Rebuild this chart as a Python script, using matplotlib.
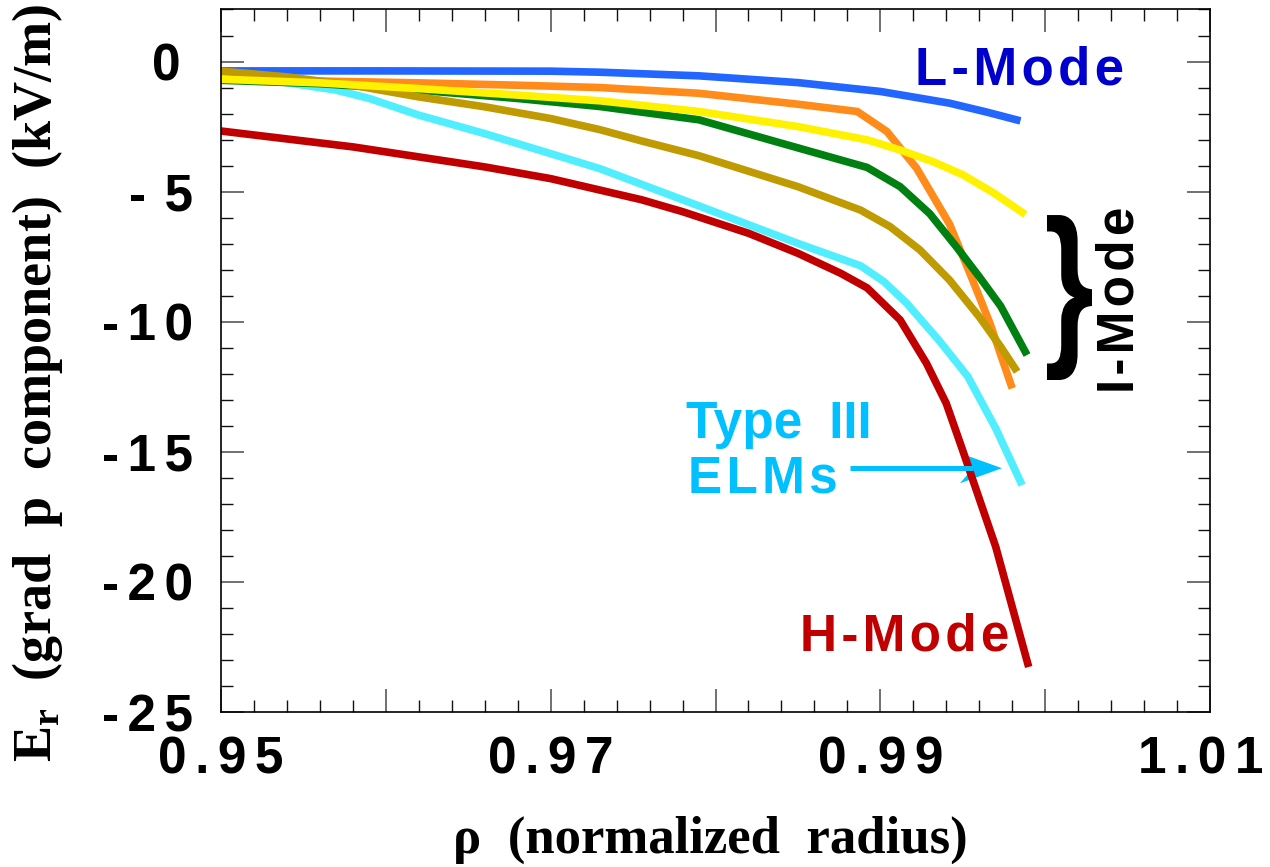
import matplotlib
matplotlib.use("Agg")
import matplotlib.pyplot as plt
from matplotlib.ticker import MultipleLocator, FuncFormatter
from matplotlib.textpath import TextPath
from matplotlib.font_manager import FontProperties
from matplotlib.patches import PathPatch, Polygon
from matplotlib.transforms import Affine2D

SANS = ["Liberation Sans", "DejaVu Sans"]
SERIF = ["Liberation Serif", "DejaVu Serif"]

# grad-p contribution to Er versus normalized radius, one profile per regime
l_mode_rho = [0.950, 0.960, 0.970, 0.973, 0.979, 0.985, 0.990, 0.9942, 0.9965, 0.9985]
l_mode_er = [-0.36, -0.36, -0.37, -0.41, -0.55, -0.81, -1.15, -1.60, -1.95, -2.28]

orange_rho = [0.950, 0.956, 0.962, 0.968, 0.973, 0.979, 0.985, 0.9886, 0.9904, 0.9922,
              0.9942, 0.9956, 0.99665, 0.9980]
orange_er = [-0.65, -0.75, -0.82, -0.91, -1.00, -1.22, -1.64, -1.92, -2.69, -4.10,
             -6.25, -8.40, -10.06, -12.56]

yellow_rho = [0.950, 0.956, 0.962, 0.968, 0.973, 0.979, 0.985, 0.9892, 0.9912, 0.9932,
              0.9950, 0.9969, 0.9988]
yellow_er = [-0.68, -0.82, -1.04, -1.29, -1.51, -1.92, -2.50, -3.01, -3.40, -3.85,
             -4.35, -5.06, -5.88]

green_rho = [0.950, 0.956, 0.962, 0.968, 0.973, 0.979, 0.984, 0.9892, 0.9912, 0.9930,
             0.9946, 0.9960, 0.9973, 0.9989]
green_er = [-0.72, -0.85, -1.10, -1.42, -1.73, -2.24, -3.14, -4.07, -4.81, -5.85,
            -7.11, -8.27, -9.40, -11.28]

gold_rho = [0.950, 0.954, 0.958, 0.962, 0.966, 0.970, 0.973, 0.9755, 0.979, 0.985,
            0.9888, 0.9906, 0.9924, 0.9942, 0.9960, 0.9973, 0.9983]
gold_er = [-0.37, -0.59, -0.91, -1.36, -1.74, -2.19, -2.62, -3.05, -3.62, -4.81,
           -5.71, -6.35, -7.24, -8.40, -9.81, -10.96, -11.92]

elm3_rho = [0.950, 0.953, 0.957, 0.959, 0.962, 0.966, 0.970, 0.973, 0.979, 0.985,
            0.9888, 0.9902, 0.9916, 0.9936, 0.9953, 0.9970, 0.9986]
elm3_er = [-0.48, -0.72, -1.10, -1.42, -2.06, -2.77, -3.54, -4.12, -5.55, -6.99,
           -7.85, -8.45, -9.29, -10.75, -12.10, -14.10, -16.28]

h_mode_rho = [0.950, 0.958, 0.966, 0.970, 0.9755, 0.978, 0.982, 0.985, 0.9876, 0.9892,
              0.9912, 0.9928, 0.9940, 0.9950, 0.9970, 0.9990]
h_mode_er = [-2.67, -3.28, -4.05, -4.50, -5.31, -5.77, -6.60, -7.37, -8.14, -8.70,
             -9.93, -11.60, -13.14, -14.95, -18.65, -23.27]

x_tick_labels = {0.95: "0.95", 0.97: "0.97", 0.99: "0.99", 1.01: "1.01"}
y_tick_labels = {0: "0", -5: "- 5", -10: "-10", -15: "-15", -20: "-20", -25: "-25"}

HAIR = "\u200a"


def spaced(s, n=1):
    return (HAIR * n).join(s)


fig = plt.figure(figsize=(12.7, 8.67), dpi=100)
ax = fig.add_axes([221 / 1270, 1 - 712 / 867, (1210 - 221) / 1270, (712 - 9.5) / 867])

lw = 5.5
curves = [
    (l_mode_rho, l_mode_er, "#2266ff"),
    (orange_rho, orange_er, "#ff8c1a"),
    (elm3_rho, elm3_er, "#50eeff"),
    (green_rho, green_er, "#008010"),
    (gold_rho, gold_er, "#bf9a00"),
    (yellow_rho, yellow_er, "#fff200"),
    (h_mode_rho, h_mode_er, "#c00000"),
]
for rho, er, col in curves:
    ax.plot(rho, er, color=col, lw=lw, solid_capstyle="butt", solid_joinstyle="miter")

ax.set_xlim(0.95, 1.01)
ax.set_ylim(-25, 2)

ax.xaxis.set_major_locator(MultipleLocator(0.01))
ax.xaxis.set_minor_locator(MultipleLocator(0.002))
ax.yaxis.set_major_locator(MultipleLocator(5))
ax.yaxis.set_minor_locator(MultipleLocator(1))

LAST_X = 1.01


def fmt_x(v, pos):
    # the label at the right edge is drawn separately, pulled inward
    for k, s in x_tick_labels.items():
        if abs(v - k) < 1e-6 and abs(k - LAST_X) > 1e-6:
            return spaced(s, 2)
    return ""


def fmt_y(v, pos):
    for k, s in y_tick_labels.items():
        if abs(v - k) < 1e-6:
            if k == 0:
                return s + HAIR * 3
            if k == -5:
                return "-" + HAIR + " 5"
            return spaced(s, 2)
    return ""


ax.xaxis.set_major_formatter(FuncFormatter(fmt_x))
ax.yaxis.set_major_formatter(FuncFormatter(fmt_y))

tick_font = dict(family=SANS, fontweight="bold", fontsize=37)
ax.tick_params(which="both", direction="in", top=True, right=True)
ax.tick_params(which="major", length=16.5, width=1.4, color="#707070")
ax.tick_params(which="minor", length=8.3, width=1.0, color="#111111")
ax.tick_params(axis="y", which="major", pad=20)
ax.tick_params(axis="x", which="major", pad=17)
for lab in ax.get_xticklabels() + ax.get_yticklabels():
    lab.set_fontfamily(SANS)
    lab.set_fontweight("bold")
    lab.set_fontsize(37)
ax.annotate(spaced(x_tick_labels[LAST_X], 2), xy=(LAST_X, 0),
            xycoords=("data", "axes fraction"), xytext=(-7, -17),
            textcoords="offset points", ha="center", va="top", **tick_font)
for sp in ax.spines.values():
    sp.set_linewidth(1.2)
    sp.set_color("black")

# axis titles
fig.text(38 / 1270, 1 - 383 / 867, "E$_\\mathregular{r}$  (grad  p  component)  (kV/m)",
         rotation=90, ha="center", va="center", fontsize=39, fontweight="bold",
         family=SERIF)
fig.text(710 / 1270, 1 - 840 / 867, "\u03c1  (normalized  radius)",
         ha="center", va="center", fontsize=38, fontweight="bold", family=SERIF)

# regime labels
ax.text(0.99210, -0.9, spaced("L-Mode", 1), color="#0000cc", fontsize=38,
        fontweight="bold", family=SANS, va="baseline", ha="left")
ax.text(0.98513, -22.63, spaced("H-Mode"), color="#c00000", fontsize=37,
        fontweight="bold", family=SANS, va="baseline", ha="left")
ax.text(0.97821, -14.47, "Type" + HAIR * 3 + " III", color="#00c0ff", fontsize=37,
        fontweight="bold", family=SANS, va="baseline", ha="left")
ax.text(0.97833, -16.55, spaced("ELMs"), color="#00c0ff", fontsize=37,
        fontweight="bold", family=SANS, va="baseline", ha="left")
ax.text(1.00455, -9.17, spaced("I-Mode"), color="black", fontsize=37,
        fontweight="bold", family=SANS, rotation=90, ha="center", va="center")

# curly brace grouping the intermediate profiles
brace = TextPath((0, 0), "}", size=1, prop=FontProperties(family="Liberation Sans", weight="bold"))
bb = brace.get_extents()
x0, x1 = 1.00011, 1.00284
y0, y1 = -12.24, -5.90
tr = (Affine2D().translate(-bb.x0, -bb.y0)
      .scale((x1 - x0) / bb.width, (y1 - y0) / bb.height)
      .translate(x0, y0))
ax.add_patch(PathPatch(tr.transform_path(brace), facecolor="black", edgecolor="none",
                       transform=ax.transData, clip_on=False))

# arrow pointing at the Type III ELM profile
ay = -15.63
ax_start, ax_tip = 0.98816, 0.99738
head_len, head_half, notch = 0.00255, 0.58, 0.00176
ax.plot([ax_start, ax_tip - notch], [ay, ay], color="#00c0ff", lw=3.6, solid_capstyle="butt")
ax.add_patch(Polygon([(ax_tip, ay), (ax_tip - head_len, ay + head_half),
                      (ax_tip - notch, ay), (ax_tip - head_len, ay - head_half)],
                     closed=True, facecolor="#00c0ff", edgecolor="none"))

fig.savefig("out.png", dpi=100, facecolor="white")
